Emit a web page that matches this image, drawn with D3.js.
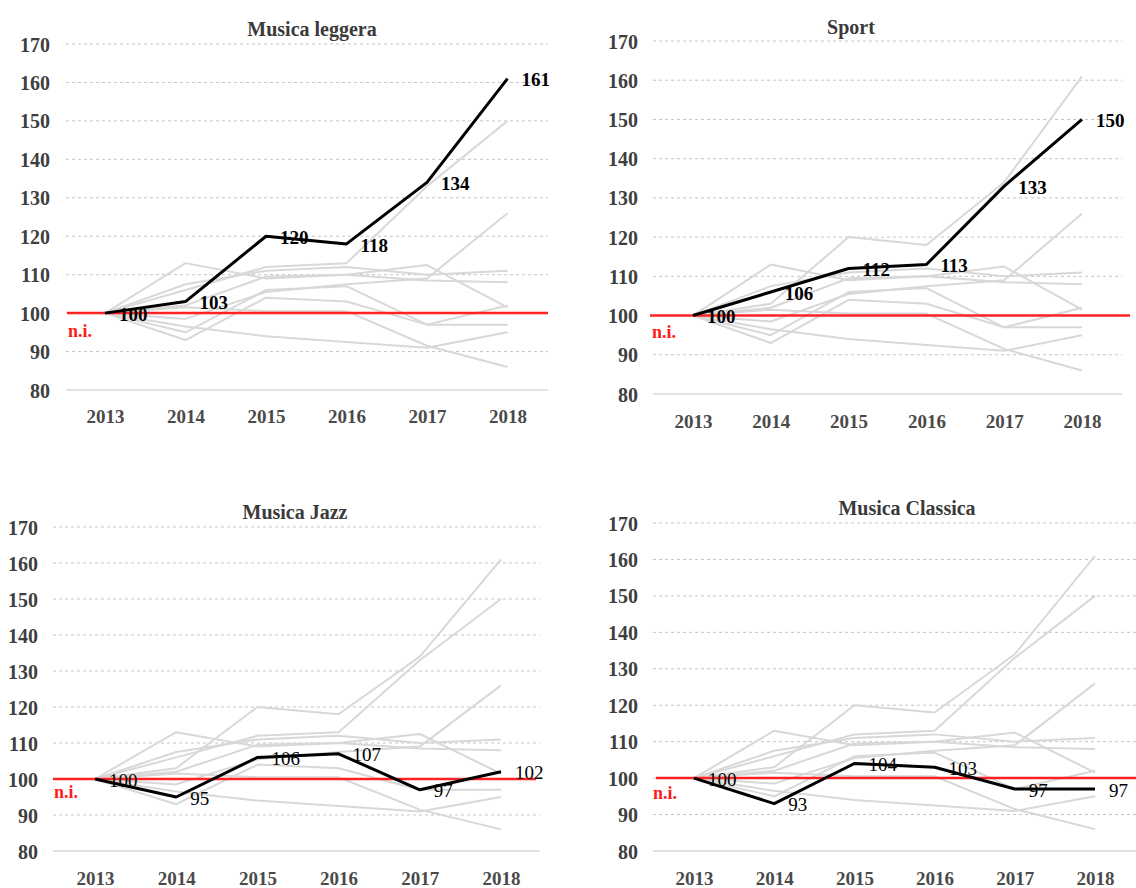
<!DOCTYPE html>
<html>
<head>
<meta charset="utf-8">
<script src="https://cdn.jsdelivr.net/npm/d3@7/dist/d3.min.js"></script>
<style>
  html, body { margin: 0; padding: 0; background: #fff; }
  svg { display: block; }
  svg text { font-family: "Liberation Serif", "Times New Roman", serif !important; }
</style>
</head>
<body>
<svg id="chart" width="1136" height="888"></svg>
<script>
// ---------------- DATA ----------------
const years = ["2013", "2014", "2015", "2016", "2017", "2018"];
const yTicks = [80, 90, 100, 110, 120, 130, 140, 150, 160, 170];
const panelTitles = ["Musica leggera", "Sport", "Musica Jazz", "Musica Classica"];
const baselineLabel = "n.i.";

const musicaLeggera  = [100, 103, 120, 118, 134, 161];
const sport          = [100, 106, 112, 113, 133, 150];
const musicaJazz     = [100, 95, 106, 107, 97, 102];
const musicaClassica = [100, 93, 104, 103, 97, 97];
// other sectors (grey background lines)
const altroA = [100, 113, 109, 110, 112.5, 101.5];
const altroB = [100, 107.5, 111, 112, 110, 111];
const altroC = [100, 102, 109.5, 110, 108.5, 108];
const altroD = [100, 98.5, 105.5, 107.5, 109, 126];
const altroE = [100, 96.5, 94, 92.5, 91, 95];
const altroF = [100, 101.5, 100.5, 100.5, 91.5, 86];

const allSeries = [musicaLeggera, sport, musicaJazz, musicaClassica,
                   altroA, altroB, altroC, altroD, altroE, altroF];
const highlighted = [musicaLeggera, sport, musicaJazz, musicaClassica];

// ---------------- LAYOUT ----------------
const panels = [
  { x0: 105, x1: 507.5, yBot: 390, yTop: 44, gx0: 66, gx1: 548, rx0: 67, rx1: 548,
    labRight: 50, titleX: 312, titleY: 29, yearY: 416, niX: 68, niY: 331, bold: true },
  { x0: 693, x1: 1082, yBot: 394, yTop: 41, gx0: 653, gx1: 1122, rx0: 650, rx1: 1130,
    labRight: 638, titleX: 851, titleY: 27, yearY: 421, niX: 652, niY: 332, bold: true },
  { x0: 95, x1: 501, yBot: 851, yTop: 527, gx0: 53, gx1: 540, rx0: 53, rx1: 536,
    labRight: 38, titleX: 295, titleY: 512, yearY: 878, niX: 54, niY: 792, bold: false },
  { x0: 694, x1: 1095, yBot: 851, yTop: 523, gx0: 653, gx1: 1136, rx0: 656, rx1: 1136,
    labRight: 638, titleX: 907, titleY: 508, yearY: 878, niX: 653, niY: 793, bold: false }
];

const svg = d3.select("#chart");
const serif = "'Liberation Serif', 'Times New Roman', serif";

panels.forEach((p, i) => {
  const g = svg.append("g");
  const x = d3.scalePoint().domain(years).range([p.x0, p.x1]);
  const y = d3.scaleLinear().domain([80, 170]).range([p.yBot, p.yTop]);

  // gridlines
  g.selectAll("line.grid").data(yTicks).enter().append("line")
    .attr("x1", p.gx0).attr("x2", p.gx1)
    .attr("y1", d => y(d)).attr("y2", d => y(d))
    .attr("stroke", d => d === 80 ? "#d9d9d9" : "#c4c4c4")
    .attr("stroke-width", d => d === 80 ? 1.5 : 1)
    .attr("stroke-dasharray", d => d === 80 ? null : "3,3");

  // y axis labels
  const yAxis = d3.axisLeft(y).tickValues(yTicks).tickSize(0).tickPadding(0);
  const ya = g.append("g").attr("transform", `translate(${p.labRight},0)`).call(yAxis)
    .attr("font-family", serif).attr("font-size", 20);
  ya.select(".domain").remove();
  ya.selectAll("text")
    .style("font-family", serif)
    .attr("font-size", 20).attr("font-weight", "bold").attr("fill", "#3f3f3f")
    .attr("x", 0).attr("dy", "0.35em");

  // x axis labels
  const xAxis = d3.axisBottom(x).tickSize(0).tickPadding(0);
  const xa = g.append("g").attr("transform", `translate(0,${p.yearY})`).call(xAxis)
    .attr("font-family", serif).attr("font-size", 19);
  xa.select(".domain").remove();
  xa.selectAll("text")
    .style("font-family", serif)
    .attr("font-size", 19).attr("font-weight", "bold").attr("fill", "#4a4a4a")
    .attr("y", 0).attr("dy", "0.35em");

  const line = d3.line().x((d, j) => x(years[j])).y(d => y(d));

  // grey lines
  g.selectAll("path.grey").data(allSeries).enter().append("path")
    .attr("d", line).attr("fill", "none")
    .attr("stroke", "#d8d8d8").attr("stroke-width", 2)
    .attr("stroke-linejoin", "round");

  // red reference line at 100
  g.append("line")
    .attr("x1", p.rx0).attr("x2", p.rx1)
    .attr("y1", y(100)).attr("y2", y(100))
    .attr("stroke", "#ff2222").attr("stroke-width", 2.5);

  // highlighted
  const hs = highlighted[i];
  g.append("path").datum(hs).attr("d", line).attr("fill", "none")
    .attr("stroke", "#000").attr("stroke-width", 3).attr("stroke-linejoin", "round");

  // data labels
  g.selectAll("text.lab").data(hs).enter().append("text")
    .attr("x", (d, j) => x(years[j]) + 14)
    .attr("y", d => y(d) + 1)
    .attr("dy", "0.35em")
    .attr("font-size", 19)
    .attr("font-weight", p.bold ? "bold" : "normal")
    .attr("fill", "#000")
    .text(d => Math.round(d));

  // title
  g.append("text").attr("x", p.titleX).attr("y", p.titleY).attr("dy", "0.35em")
    .attr("text-anchor", "middle").attr("font-size", 20).attr("font-weight", "bold")
    .attr("fill", "#3a3a3a").text(panelTitles[i]);

  // n.i.
  g.append("text").attr("x", p.niX).attr("y", p.niY).attr("dy", "0.35em")
    .attr("font-size", 18).attr("font-weight", "bold").attr("fill", "#ff1a1a")
    .text(baselineLabel);
});
</script>
</body>
</html>
